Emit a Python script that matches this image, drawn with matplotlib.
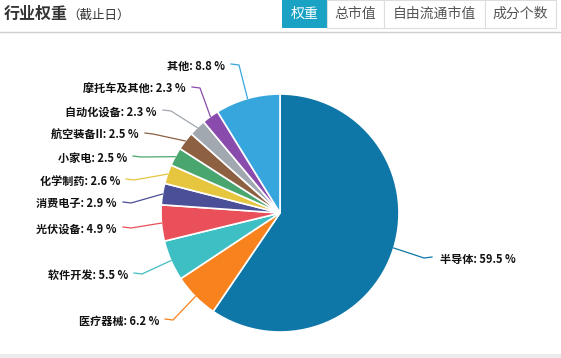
import numpy as np
import matplotlib.pyplot as plt

plt.rcParams['font.family'] = ['Noto Sans CJK SC', 'DejaVu Sans']

# Dados (ordem horária a partir do topo)
setores = ['半导体', '医疗器械', '软件开发', '光伏设备', '消费电子', '化学制药',
           '小家电', '航空装备II', '自动化设备', '摩托车及其他', '其他']
pesos = [59.5, 6.2, 5.5, 4.9, 2.9, 2.6, 2.5, 2.5, 2.3, 2.3, 8.8]
cores = ['#0e77a7', '#f7821e', '#3ebfc3', '#e9505a', '#4a4f98', '#e6c53f',
         '#4aa66f', '#8d6042', '#a1a8b0', '#8a4cac', '#36a6dd']
abas = ['权重', '总市值', '自由流通市值', '成分个数']

# Layout (pixels)
W, H = 561, 358
cx, cy, r = 280, 213, 119
# posição dos rótulos: (x, y, alinhamento)
pos_rotulos = [(440, 259, 'left'), (159, 321, 'right'), (128, 275, 'right'),
               (117, 229, 'right'), (117, 204, 'right'), (120, 181, 'right'),
               (127, 158, 'right'), (139, 135, 'right'), (157, 112, 'right'),
               (186, 89, 'right'), (225, 66, 'right')]
abas_x = [282, 327, 384, 485, 556]

fig = plt.figure(figsize=(W / 100, H / 100), dpi=100)
ax = fig.add_axes([0, 0, 1, 1])

# eixo y invertido: startangle=-90 + counterclock=True => horário a partir do topo
wedges, _ = ax.pie(pesos, colors=cores, center=(cx, cy), radius=r,
                   startangle=-90, counterclock=True,
                   wedgeprops=dict(edgecolor='white', linewidth=1.2))

# Rótulos e linhas de ligação
for w, nome, p, (lx, ly, ha) in zip(wedges, setores, pesos, pos_rotulos):
    ang = np.deg2rad((w.theta1 + w.theta2) / 2)
    ex = cx + r * np.cos(ang)
    ey = cy + r * np.sin(ang)
    if ha == 'right':
        xs = [lx + 6, lx + 14, ex]
    else:
        xs = [lx - 8, lx - 16, ex]
    ys = [ly - 2, ly - 1, ey]
    ax.plot(xs, ys, color=w.get_facecolor(), lw=0.9, zorder=1)
    ax.text(lx, ly, f'{nome}: {p} %', ha=ha, va='center', fontsize=8,
            fontweight='bold', color='#111111')

# Cabeçalho
ax.text(4, 14, '行业权重', fontsize=11.5, fontweight='bold', color='#333333', va='center')
ax.text(67, 15, '（截止日）', fontsize=9, color='#333333', va='center')
ax.plot([0, W], [31.5, 31.5], color='#d0d0d0', lw=1)

for i, aba in enumerate(abas):
    x1, x2 = abas_x[i], abas_x[i + 1]
    if i == 0:
        ax.add_patch(plt.Rectangle((x1, 0), x2 - x1, 28, color='#1aa2c4', lw=0))
        cor_txt = 'white'
    else:
        ax.add_patch(plt.Rectangle((x1, 0), x2 - x1, 28, facecolor='white',
                                   edgecolor='#dddddd', lw=0.8))
        cor_txt = '#555555'
    ax.text((x1 + x2) / 2, 14, aba, ha='center', va='center', fontsize=10, color=cor_txt)

# faixa cinza inferior
ax.add_patch(plt.Rectangle((0, 354), W, 4, color='#ececec', lw=0))

ax.set_xlim(0, W)
ax.set_ylim(H, 0)
ax.set_aspect('equal')
ax.axis('off')

plt.savefig('out.png', dpi=100)
